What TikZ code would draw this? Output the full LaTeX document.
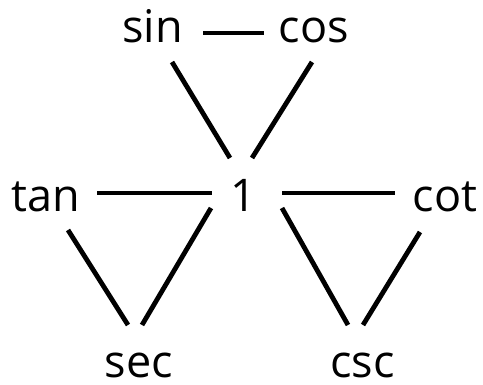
\documentclass[tikz,border=0pt]{standalone}
\usepackage{fontspec}
\setmainfont{Open Sans}
\begin{document}
\begin{tikzpicture}[x=1pt,y=-1pt,
  fn/.style={anchor=base,inner sep=0pt,font=\fontsize{45}{54}\selectfont},
  edge/.style={line width=4.8pt,black}]
\useasboundingbox (0,0) rectangle (483,385);
% function names around the central 1
\node[fn] (sin) at (152.5,43) {sin};
\node[fn] (cos) at (314,43) {cos};
\node[fn] (tan) at (45.5,212) {tan};
\node[fn] (one) at (243.5,212) {1};
\node[fn] (cot) at (445,212) {cot};
\node[fn] (sec) at (139,378) {sec};
\node[fn] (csc) at (362.5,378) {csc};
% top triangle
\draw[edge] ([shift={(50.5,-10)}]sin.base) -- ([shift={(-50,-10)}]cos.base);
\draw[edge] ([shift={(19.5,19)}]sin.base) -- ([shift={(-13.5,-54)}]one.base);
\draw[edge] ([shift={(-2,19)}]cos.base) -- ([shift={(8.5,-54)}]one.base);
% left triangle
\draw[edge] ([shift={(51.5,-19)}]tan.base) -- ([shift={(-31.5,-19)}]one.base);
\draw[edge] ([shift={(22.5,18)}]tan.base) -- ([shift={(-11,-53)}]sec.base);
\draw[edge] ([shift={(-32.5,-4)}]one.base) -- ([shift={(3,-53)}]sec.base);
% right triangle
\draw[edge] ([shift={(38.5,-19)}]one.base) -- ([shift={(-50,-19)}]cot.base);
\draw[edge] ([shift={(38.5,-4)}]one.base) -- ([shift={(-14.5,-53)}]csc.base);
\draw[edge] ([shift={(-25,20)}]cot.base) -- ([shift={(0.5,-53)}]csc.base);
\end{tikzpicture}
\end{document}
